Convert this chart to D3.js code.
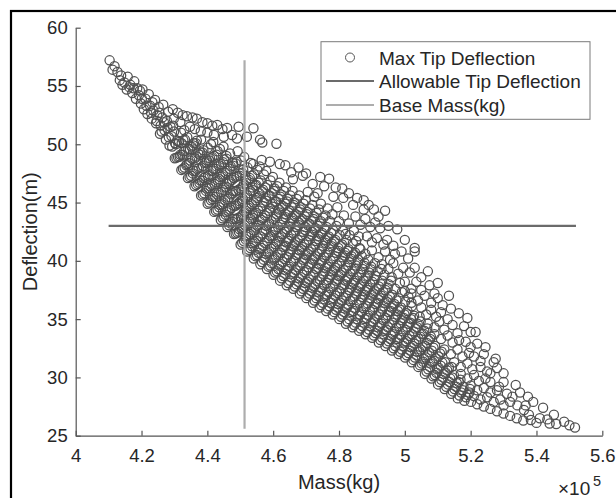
<!DOCTYPE html>
<html><head><meta charset="utf-8">
<script src="https://cdn.jsdelivr.net/npm/d3@7/dist/d3.min.js"></script>
<style>body{margin:0;background:#fff}svg{display:block}text{font-family:Arial,"Liberation Sans",sans-serif;fill:#262626}</style>
</head><body><svg id="c" width="616" height="498"></svg>
<script>
// mass values in units of 1e5 kg, deflection in m
const xTicks=[4,4.2,4.4,4.6,4.8,5,5.2,5.4,5.6];
const yTicks=[25,30,35,40,45,50,55,60];
const allowableDeflection=43;
const allowableMassRange=[4.10,5.52];
const baseMass=4.513;
const baseDeflectionRange=[25.6,57.2];
const legendLabels=["Max Tip Deflection","Allowable Tip Deflection","Base Mass(kg)"];

const upperArm=[[4.103,57.2],[4.118,56.7],[4.127,56.2],[4.138,55.9],[4.134,55.5],[4.148,55.3],[4.155,54.7],[4.158,55.8],[4.166,55.1],[4.172,54.4],[4.178,55.4],[4.183,53.9],[4.187,54.8],[4.192,54.2],[4.198,53.5],[4.203,54.7],[4.207,53.0],[4.212,53.9],[4.218,52.6],[4.222,54.3],[4.226,53.3],[4.231,52.2],[4.236,52.9],[4.241,53.8],[4.244,51.8],[4.248,52.5],[4.252,53.2],[4.256,50.9],[4.258,51.6],[4.263,52.3],[4.266,53.4],[4.27,51.2],[4.274,50.4],[4.277,52.0],[4.281,52.8],[4.285,49.9],[4.288,51.5],[4.291,50.7],[4.295,53.0],[4.298,52.2],
[4.112,56.4],[4.142,55.1],[4.163,54.9],[4.176,54.8],[4.195,54.6],[4.201,53.9],[4.215,53.3],[4.229,52.7],[4.233,53.6],[4.246,52.0],[4.254,52.7],[4.261,51.1],[4.268,51.9],[4.279,51.4],[4.283,50.6],[4.293,49.8],[4.296,51.6]];

const topStrand=[[4.31,52.7],[4.325,52.5],[4.338,52.4],[4.355,52.3],[4.368,52.2],[4.385,51.9],[4.40,51.8],[4.415,51.6],[4.43,51.65],[4.446,51.3],[4.46,51.4],[4.495,51.5],[4.54,51.37],[4.38,51.1],[4.40,51.0],[4.42,50.8],[4.45,50.65],[4.475,50.8],[4.49,50.5],[4.52,50.65],[4.56,50.4],[4.567,50.15],[4.61,50.05],[4.318,51.9],[4.347,51.5],[4.362,51.3],[4.33,51.2]];

const denseBand=[
[4.301,48.8],[4.302,50.1],[4.299,51.1],[4.311,48.9],[4.309,50.3],
[4.321,47.8],[4.318,49.1],[4.322,50.1],[4.320,51.0],[4.331,48.0],[4.329,49.4],[4.332,50.4],
[4.341,47.1],[4.338,48.3],[4.342,49.6],[4.339,50.6],[4.351,47.3],[4.348,48.6],[4.352,49.8],
[4.361,46.4],[4.358,47.7],[4.362,48.8],[4.359,50.1],[4.371,46.6],[4.369,47.9],[4.372,49.2],[4.368,50.3],
[4.381,45.6],[4.378,46.9],[4.382,48.0],[4.379,49.3],[4.381,50.4],[4.391,45.8],[4.389,47.1],[4.392,48.4],[4.388,49.5],
[4.401,44.9],[4.398,46.2],[4.402,47.3],[4.399,48.6],[4.401,49.7],[4.411,45.2],[4.409,46.4],[4.412,47.7],[4.408,48.8],[4.411,50.0],
[4.421,44.2],[4.418,45.5],[4.422,46.6],[4.419,47.9],[4.421,49.0],[4.418,50.2],[4.431,44.4],[4.429,45.7],[4.432,46.9],[4.428,48.1],[4.431,49.4],
[4.441,43.5],[4.438,44.8],[4.442,45.9],[4.439,47.2],[4.441,48.3],[4.438,49.6],[4.451,43.8],[4.449,45.0],[4.452,46.3],[4.448,47.4],[4.451,48.7],[4.449,49.8],
[4.461,42.9],[4.458,44.2],[4.462,45.3],[4.459,46.6],[4.461,47.7],[4.458,49.0],[4.471,43.2],[4.469,44.4],[4.472,45.7],[4.468,46.8],[4.471,48.1],[4.469,49.2],
[4.481,42.3],[4.478,43.6],[4.482,44.7],[4.479,46.0],[4.481,47.1],[4.478,48.4],[4.491,42.4],[4.489,43.6],[4.492,44.9],[4.488,46.0],[4.491,47.3],[4.489,48.5],[4.492,49.4],
[4.501,41.4],[4.498,42.7],[4.502,43.8],[4.499,45.1],[4.501,46.2],[4.498,47.5],[4.502,48.6],[4.511,41.7],[4.509,42.9],[4.512,44.2],[4.508,45.3],[4.511,46.6],[4.509,47.8],[4.512,48.9],
[4.521,40.8],[4.518,42.1],[4.522,43.2],[4.519,44.5],[4.521,45.6],[4.518,46.9],[4.522,48.0],[4.531,41.1],[4.529,42.3],[4.532,43.6],[4.528,44.7],[4.531,46.0],[4.529,47.1],[4.532,48.4],
[4.541,40.2],[4.538,41.5],[4.542,42.6],[4.539,43.9],[4.541,45.0],[4.538,46.3],[4.542,47.4],[4.539,48.3],[4.551,40.5],[4.549,41.7],[4.552,43.0],[4.548,44.1],[4.551,45.4],[4.549,46.5],[4.552,47.8],
[4.561,39.7],[4.558,41.0],[4.562,42.1],[4.559,43.4],[4.561,44.5],[4.558,45.8],[4.562,46.9],[4.559,48.1],[4.571,40.1],[4.569,41.3],[4.572,42.6],[4.568,43.7],[4.571,45.0],[4.569,46.1],[4.572,47.4],
[4.581,39.3],[4.578,40.6],[4.582,41.7],[4.579,43.0],[4.581,44.1],[4.578,45.4],[4.582,46.5],[4.579,47.7],[4.591,39.6],[4.589,40.8],[4.592,42.1],[4.588,43.2],[4.591,44.5],[4.589,45.6],[4.592,46.9],
[4.601,38.8],[4.598,40.1],[4.602,41.2],[4.599,42.5],[4.601,43.6],[4.598,44.9],[4.602,46.0],[4.599,47.2],[4.611,39.1],[4.609,40.3],[4.612,41.6],[4.608,42.7],[4.611,44.0],[4.609,45.1],[4.612,46.4],
[4.621,38.3],[4.618,39.6],[4.622,40.7],[4.619,42.0],[4.621,43.1],[4.618,44.4],[4.622,45.5],[4.619,46.7],[4.631,38.7],[4.629,39.9],[4.632,41.2],[4.628,42.3],[4.631,43.6],[4.629,44.7],[4.632,46.0],
[4.641,37.9],[4.638,39.2],[4.642,40.3],[4.639,41.6],[4.641,42.7],[4.638,44.0],[4.642,45.1],[4.639,46.3],[4.651,38.3],[4.649,39.5],[4.652,40.8],[4.648,41.9],[4.651,43.2],[4.649,44.3],[4.652,45.6],
[4.661,37.6],[4.658,38.9],[4.662,40.0],[4.659,41.3],[4.661,42.4],[4.658,43.7],[4.662,44.8],[4.659,46.0],[4.671,38.0],[4.669,39.2],[4.672,40.5],[4.668,41.6],[4.671,42.9],[4.669,44.0],[4.672,45.3],
[4.681,37.2],[4.678,38.5],[4.682,39.6],[4.679,40.9],[4.681,42.0],[4.678,43.3],[4.682,44.4],[4.679,45.6],[4.691,37.6],[4.689,38.8],[4.692,40.1],[4.688,41.2],[4.691,42.5],[4.689,43.6],[4.692,44.9],
[4.701,36.8],[4.698,38.1],[4.702,39.2],[4.699,40.5],[4.701,41.6],[4.698,42.9],[4.702,44.0],[4.699,45.2],[4.711,37.2],[4.709,38.4],[4.712,39.7],[4.708,40.8],[4.711,42.1],[4.709,43.2],[4.712,44.5],
[4.721,36.4],[4.718,37.7],[4.722,38.8],[4.719,40.1],[4.721,41.2],[4.718,42.5],[4.722,43.6],[4.719,44.8],[4.731,36.8],[4.729,38.0],[4.732,39.3],[4.728,40.4],[4.731,41.7],[4.729,42.8],[4.732,44.1],
[4.741,36.0],[4.738,37.3],[4.742,38.4],[4.739,39.7],[4.741,40.8],[4.738,42.1],[4.742,43.2],[4.739,44.4],[4.751,36.4],[4.749,37.6],[4.752,38.9],[4.748,40.0],[4.751,41.3],[4.749,42.4],[4.752,43.7],
[4.761,35.7],[4.758,37.0],[4.762,38.1],[4.759,39.4],[4.761,40.5],[4.758,41.8],[4.762,42.9],[4.759,43.9],[4.771,36.1],[4.769,37.3],[4.772,38.6],[4.768,39.7],[4.771,41.0],[4.769,42.1],[4.772,43.4],
[4.781,35.4],[4.778,36.7],[4.782,37.8],[4.779,39.1],[4.781,40.2],[4.778,41.5],[4.782,42.6],[4.791,35.8],[4.789,37.0],[4.792,38.3],[4.788,39.4],[4.791,40.7],[4.789,41.8],[4.792,43.0],
[4.801,35.0],[4.798,36.3],[4.802,37.4],[4.799,38.7],[4.801,39.8],[4.798,41.1],[4.802,42.2],[4.811,35.4],[4.809,36.6],[4.812,37.9],[4.808,39.0],[4.811,40.3],[4.809,41.4],[4.812,42.6],
[4.821,34.6],[4.818,35.9],[4.822,37.0],[4.819,38.3],[4.821,39.4],[4.818,40.7],[4.822,41.8],[4.831,35.0],[4.829,36.2],[4.832,37.5],[4.828,38.6],[4.831,39.9],[4.829,41.0],[4.832,42.2],
[4.841,34.3],[4.838,35.6],[4.842,36.7],[4.839,38.0],[4.841,39.1],[4.838,40.4],[4.842,41.5],[4.851,34.7],[4.849,35.9],[4.852,37.2],[4.848,38.3],[4.851,39.6],[4.849,40.7],[4.852,41.7],
[4.861,34.0],[4.858,35.3],[4.862,36.4],[4.859,37.7],[4.861,38.8],[4.858,40.1],[4.862,41.1],[4.871,34.4],[4.869,35.6],[4.872,36.9],[4.868,38.0],[4.871,39.3],[4.869,40.4],
[4.881,33.7],[4.878,35.0],[4.882,36.1],[4.879,37.4],[4.881,38.5],[4.878,39.8],[4.891,34.1],[4.889,35.3],[4.892,36.6],[4.888,37.7],[4.891,39.0],[4.889,40.1],
[4.901,33.4],[4.898,34.7],[4.902,35.8],[4.899,37.1],[4.901,38.2],[4.898,39.5],[4.911,33.8],[4.909,35.0],[4.912,36.3],[4.908,37.4],[4.911,38.7],[4.909,39.8],
[4.921,33.0],[4.918,34.3],[4.922,35.4],[4.919,36.7],[4.921,37.8],[4.918,39.1],[4.931,33.4],[4.929,34.6],[4.932,35.9],[4.928,37.0],[4.931,38.3],[4.929,39.3],
[4.941,32.7],[4.938,34.0],[4.942,35.1],[4.939,36.4],[4.941,37.5],[4.938,38.8],[4.951,33.1],[4.949,34.3],[4.952,35.6],[4.948,36.7],[4.951,38.0],
[4.961,32.3],[4.958,33.6],[4.962,34.7],[4.959,36.0],[4.961,37.1],[4.958,38.3],[4.971,32.7],[4.969,33.9],[4.972,35.2],[4.968,36.3],[4.971,37.6],
[4.981,32.0],[4.978,33.3],[4.982,34.4],[4.979,35.7],[4.981,36.8],[4.991,32.4],[4.989,33.6],[4.992,34.9],[4.988,36.0],[4.991,37.3],
[5.001,31.7],[4.998,33.0],[5.002,34.1],[4.999,35.4],[5.001,36.5],[5.011,32.1],[5.009,33.3],[5.012,34.6],[5.008,35.7],[5.011,36.9],
[5.021,31.3],[5.018,32.6],[5.022,33.7],[5.019,35.0],[5.021,36.1],[5.031,31.7],[5.029,32.9],[5.032,34.2],[5.028,35.3],
[5.041,30.9],[5.038,32.2],[5.042,33.3],[5.039,34.6],[5.051,31.2],[5.049,32.4],[5.052,33.7],[5.048,34.8],
[5.061,30.3],[5.058,31.6],[5.062,32.7],[5.059,34.0],[5.071,30.7],[5.069,31.9],[5.072,33.2],[5.068,34.2],
[5.081,29.9],[5.078,31.2],[5.082,32.3],[5.079,33.5],[5.091,30.2],[5.089,31.4],[5.092,32.7],
[5.101,29.4],[5.098,30.7],[5.102,31.8],[5.111,29.8],[5.109,31.0],[5.112,32.2],
[5.121,29.0],[5.118,30.3],[5.122,31.3],[5.131,29.4],[5.129,30.6],[5.141,28.6],[5.138,29.9],[5.142,30.9],
[5.151,29.0],[5.149,30.2],[5.161,28.2],[5.158,29.5],[5.171,28.7],[5.169,29.8],[5.181,28.0],[5.178,29.2],[5.191,28.5],[5.201,27.9],[5.198,29.0]];

const denseFill=[
[4.306,48.85],[4.304,50.0],[4.316,48.95],[4.314,50.2],[4.326,47.9],[4.324,49.1],[4.327,50.35],[4.336,48.2],[4.334,49.45],
[4.346,47.2],[4.344,48.4],[4.347,49.6],[4.356,47.5],[4.354,48.75],[4.357,49.9],[4.366,46.5],[4.364,47.7],[4.367,48.95],[4.365,50.1],
[4.376,46.7],[4.374,47.95],[4.377,49.1],[4.386,45.7],[4.384,46.9],[4.387,48.15],[4.385,49.3],[4.396,46.0],[4.394,47.2],[4.397,48.45],
[4.406,45.0],[4.404,46.25],[4.407,47.4],[4.405,48.6],[4.416,45.3],[4.414,46.5],[4.417,47.75],[4.415,48.9],
[4.426,44.3],[4.424,45.5],[4.427,46.75],[4.425,47.9],[4.428,49.1],[4.436,44.6],[4.434,45.85],[4.437,47.0],[4.435,48.2],
[4.446,43.65],[4.444,44.85],[4.447,46.1],[4.445,47.25],[4.448,48.45],[4.456,43.95],[4.454,45.2],[4.457,46.35],[4.455,47.55],[4.458,48.75],
[4.466,43.05],[4.464,44.3],[4.467,45.45],[4.465,46.65],[4.468,47.9],[4.476,43.35],[4.474,44.55],[4.477,45.8],[4.475,46.95],[4.478,48.15],
[4.486,42.35],[4.484,43.6],[4.487,44.75],[4.485,45.95],[4.488,47.2],[4.486,48.35],[4.496,42.5],[4.494,43.7],[4.497,44.95],[4.495,46.1],[4.498,47.3],
[4.506,41.55],[4.504,42.8],[4.507,43.95],[4.505,45.15],[4.508,46.4],[4.506,47.55],[4.516,41.85],[4.514,43.05],[4.517,44.3],[4.515,45.45],[4.518,46.65],
[4.526,40.95],[4.524,42.2],[4.527,43.35],[4.525,44.55],[4.528,45.8],[4.526,46.95],[4.536,41.25],[4.534,42.45],[4.537,43.7],[4.535,44.85],[4.538,46.05],[4.536,47.3],
[4.546,40.4],[4.544,41.6],[4.547,42.85],[4.545,44.0],[4.548,45.2],[4.546,46.45],[4.556,40.7],[4.554,41.95],[4.557,43.1],[4.555,44.3],[4.558,45.55],[4.556,46.7],
[4.566,39.9],[4.564,41.1],[4.567,42.35],[4.565,43.5],[4.568,44.7],[4.566,45.95],[4.576,40.3],[4.574,41.55],[4.577,42.7],[4.575,43.9],[4.578,45.15],[4.576,46.3],
[4.586,39.5],[4.584,40.7],[4.587,41.95],[4.585,43.1],[4.588,44.3],[4.586,45.55],[4.596,39.8],[4.594,41.05],[4.597,42.2],[4.595,43.4],[4.598,44.65],[4.596,45.8],
[4.606,39.0],[4.604,40.2],[4.607,41.45],[4.605,42.6],[4.608,43.8],[4.606,45.05],[4.604,46.2],[4.616,39.3],[4.614,40.55],[4.617,41.7],[4.615,42.9],[4.618,44.15],[4.616,45.3],
[4.626,38.5],[4.624,39.7],[4.627,40.95],[4.625,42.1],[4.628,43.3],[4.626,44.55],[4.624,45.7],[4.636,38.9],[4.634,40.15],[4.637,41.3],[4.635,42.5],[4.638,43.75],[4.636,44.9],
[4.646,38.1],[4.644,39.3],[4.647,40.55],[4.645,41.7],[4.648,42.9],[4.646,44.15],[4.644,45.3],[4.656,38.6],[4.654,39.85],[4.657,41.0],[4.655,42.2],[4.658,43.45],[4.656,44.6],
[4.666,37.8],[4.664,39.0],[4.667,40.25],[4.665,41.4],[4.668,42.6],[4.666,43.85],[4.664,45.0],[4.676,38.2],[4.674,39.45],[4.677,40.6],[4.675,41.8],[4.678,43.05],[4.676,44.2],
[4.686,37.4],[4.684,38.6],[4.687,39.85],[4.685,41.0],[4.688,42.2],[4.686,43.45],[4.684,44.6],[4.696,37.8],[4.694,39.05],[4.697,40.2],[4.695,41.4],[4.698,42.65],[4.696,43.8],
[4.706,37.0],[4.704,38.2],[4.707,39.45],[4.705,40.6],[4.708,41.8],[4.706,43.05],[4.704,44.2],[4.716,37.4],[4.714,38.65],[4.717,39.8],[4.715,41.0],[4.718,42.25],[4.716,43.4],
[4.726,36.6],[4.724,37.8],[4.727,39.05],[4.725,40.2],[4.728,41.4],[4.726,42.65],[4.724,43.8],[4.736,37.0],[4.734,38.25],[4.737,39.4],[4.735,40.6],[4.738,41.85],[4.736,43.0],
[4.746,36.2],[4.744,37.4],[4.747,38.65],[4.745,39.8],[4.748,41.0],[4.746,42.25],[4.744,43.4],[4.756,36.7],[4.754,37.95],[4.757,39.1],[4.755,40.3],[4.758,41.55],[4.756,42.7],
[4.766,35.9],[4.764,37.1],[4.767,38.35],[4.765,39.5],[4.768,40.7],[4.766,41.95],[4.776,36.4],[4.774,37.65],[4.777,38.8],[4.775,40.0],[4.778,41.25],[4.776,42.4],
[4.786,35.6],[4.784,36.8],[4.787,38.05],[4.785,39.2],[4.788,40.4],[4.786,41.65],[4.796,36.0],[4.794,37.25],[4.797,38.4],[4.795,39.6],[4.798,40.85],
[4.806,35.2],[4.804,36.4],[4.807,37.65],[4.805,38.8],[4.808,40.0],[4.806,41.25],[4.816,35.6],[4.814,36.85],[4.817,38.0],[4.815,39.2],[4.818,40.45],
[4.826,34.8],[4.824,36.0],[4.827,37.25],[4.825,38.4],[4.828,39.6],[4.826,40.85],[4.836,35.3],[4.834,36.55],[4.837,37.7],[4.835,38.9],[4.838,40.15],
[4.846,34.5],[4.844,35.7],[4.847,36.95],[4.845,38.1],[4.848,39.3],[4.846,40.55],[4.856,35.0],[4.854,36.25],[4.857,37.4],[4.855,38.6],[4.858,39.85],
[4.866,34.2],[4.864,35.4],[4.867,36.65],[4.865,37.8],[4.868,39.0],[4.876,34.7],[4.874,35.95],[4.877,37.1],[4.875,38.3],[4.878,39.55],
[4.886,33.9],[4.884,35.1],[4.887,36.35],[4.885,37.5],[4.888,38.7],[4.896,34.4],[4.894,35.65],[4.897,36.8],[4.895,38.0],[4.898,39.25],
[4.906,33.6],[4.904,34.8],[4.907,36.05],[4.905,37.2],[4.908,38.4],[4.916,34.0],[4.914,35.25],[4.917,36.4],[4.915,37.6],
[4.926,33.2],[4.924,34.4],[4.927,35.65],[4.925,36.8],[4.928,38.0],[4.936,33.7],[4.934,34.95],[4.937,36.1],[4.935,37.3],
[4.946,32.9],[4.944,34.1],[4.947,35.35],[4.945,36.5],[4.948,37.7],[4.956,33.3],[4.954,34.55],[4.957,35.7],[4.955,36.9],
[4.966,32.5],[4.964,33.7],[4.967,34.95],[4.965,36.1],[4.976,33.0],[4.974,34.25],[4.977,35.4],[4.975,36.6],
[4.986,32.2],[4.984,33.4],[4.987,34.65],[4.985,35.8],[4.996,32.7],[4.994,33.95],[4.997,35.1],
[5.006,31.9],[5.004,33.1],[5.007,34.35],[5.005,35.5],[5.016,32.3],[5.014,33.55],[5.017,34.7],
[5.026,31.5],[5.024,32.7],[5.027,33.95],[5.025,35.1],[5.036,31.9],[5.034,33.15],[5.037,34.3],
[5.046,31.05],[5.044,32.25],[5.047,33.5],[5.056,31.35],[5.054,32.6],[5.057,33.75],
[5.066,30.5],[5.064,31.7],[5.067,32.95],[5.076,30.9],[5.074,32.15],[5.077,33.3],
[5.086,30.1],[5.084,31.3],[5.087,32.55],[5.096,30.4],[5.094,31.65],
[5.106,29.6],[5.104,30.8],[5.107,32.05],[5.116,30.0],[5.114,31.25],
[5.126,29.2],[5.124,30.4],[5.136,29.6],[5.134,30.85],[5.146,28.8],[5.144,30.0],
[5.156,29.2],[5.166,28.45],[5.164,29.6],[5.176,28.9],[5.186,28.3],[5.196,28.7]];

const upperSparse=[[4.565,48.65],[4.59,48.5],[4.62,48.3],[4.637,48.2],[4.655,47.6],[4.677,48.0],[4.66,47.0],[4.69,47.3],[4.70,47.5],[4.72,46.6],[4.743,47.2],[4.755,46.4],[4.77,47.05],[4.783,45.5],[4.79,46.3],[4.81,46.2],[4.813,45.4],[4.83,45.8],[4.843,44.8],[4.855,45.4],[4.875,45.2],[4.875,44.4],[4.89,44.8],[4.906,44.4],[4.94,44.3],[4.92,43.8],
[4.705,45.9],[4.725,45.5],[4.745,44.9],[4.735,45.8],[4.765,44.5],[4.78,44.0],[4.795,44.6],[4.80,43.4],[4.815,43.9],[4.83,43.2],[4.85,43.8],[4.865,43.1],[4.88,43.6],[4.895,42.9],[4.91,43.3],[4.925,42.8],[4.95,43.0],[4.977,42.7],
[4.82,42.3],[4.845,42.6],[4.86,42.1],[4.885,42.1],[4.90,41.6],[4.915,41.95],[4.935,41.4],[4.946,41.8],[4.965,41.3],[5.0,41.8],[5.03,41.1],
[4.865,41.0],[4.88,40.6],[4.90,40.9],[4.92,40.3],[4.94,40.8],[4.955,40.1],[4.97,40.6],[4.99,40.8],[5.01,40.2],[5.03,40.8],
[4.93,39.7],[4.95,39.3],[4.965,39.8],[4.98,38.9],[4.995,39.4],[5.015,39.0],[5.03,39.4],[5.05,38.6],[5.07,39.1],
[4.96,38.6],[4.985,38.1],[5.0,38.2],[5.02,37.6],[5.035,38.2],[5.05,37.5],[5.075,37.9],[5.10,38.1],[5.09,37.2],
[5.0,37.4],[5.02,37.2],[5.04,36.6],[5.06,37.0],[5.08,36.4],[5.10,36.8],[5.115,36.2],[5.134,37.0],
[5.02,36.4],[5.05,36.0],[5.065,35.4],[5.08,35.8],[5.095,35.2],[5.11,35.6],[5.13,35.0],[5.14,35.9],[5.164,35.5],[5.19,35.1],
[5.045,35.2],[5.07,34.6],[5.09,34.3],[5.105,34.8],[5.12,34.1],[5.145,34.5],[5.16,33.8],[5.18,34.4],[5.20,33.9],[5.215,33.9]];

const lowerTail=[[5.09,33.7],[5.11,33.3],[5.13,33.6],[5.145,33.0],[5.165,33.2],[5.185,33.06],[5.20,32.6],[5.22,32.9],[5.245,32.6],
[5.12,32.4],[5.14,32.0],[5.16,32.4],[5.175,31.8],[5.195,32.1],[5.21,31.8],[5.23,31.4],[5.24,32.0],[5.27,31.3],[5.276,31.6],
[5.15,31.3],[5.17,30.9],[5.19,31.2],[5.205,30.7],[5.23,30.9],[5.25,30.5],[5.26,30.35],[5.28,30.8],[5.30,30.35],
[5.17,30.3],[5.19,29.9],[5.21,30.2],[5.225,29.7],[5.245,29.9],[5.26,29.6],[5.286,29.2],[5.30,29.6],[5.337,29.35],
[5.20,29.3],[5.22,28.9],[5.24,29.1],[5.26,28.7],[5.28,28.9],[5.31,28.6],[5.327,28.35],[5.35,28.7],[5.374,28.35],
[5.21,28.4],[5.23,28.1],[5.25,28.3],[5.27,27.9],[5.29,28.1],[5.30,27.6],[5.32,27.9],[5.342,27.6],[5.367,27.6],[5.39,27.9],[5.42,27.4],
[5.22,27.7],[5.24,27.5],[5.26,27.3],[5.28,27.1],[5.30,26.9],[5.32,26.7],[5.34,26.5],[5.362,27.2],[5.377,26.8],[5.36,26.3],[5.383,26.35],[5.41,26.5],[5.40,26.1],[5.433,26.4],[5.44,26.05],[5.453,26.8],[5.46,26.0],[5.484,26.2],[5.50,25.9],[5.517,25.7]];

const svg=d3.select("#c");
const x=d3.scaleLinear().domain([4,5.6]).range([75.7,602.3]);
const y=d3.scaleLinear().domain([25,60]).range([435.7,27.7]);
const axisColor="#555";

svg.append("rect").attr("x",11).attr("y",11).attr("width",700).attr("height",600)
  .attr("fill","none").attr("stroke","#000").attr("stroke-width",2.2);

const allPoints=[].concat(upperArm,topStrand,denseBand,denseFill,upperSparse,lowerTail);
svg.append("g").selectAll("circle").data(allPoints).join("circle")
  .attr("cx",d=>x(d[0])).attr("cy",d=>y(d[1])).attr("r",4.6)
  .attr("fill","none").attr("stroke","#505050").attr("stroke-width",1.25);

svg.append("line").attr("x1",x(allowableMassRange[0])).attr("x2",x(allowableMassRange[1]))
  .attr("y1",y(allowableDeflection)).attr("y2",y(allowableDeflection))
  .attr("stroke","#6b6b6b").attr("stroke-width",2.2);
svg.append("line").attr("x1",x(baseMass)).attr("x2",x(baseMass))
  .attr("y1",y(baseDeflectionRange[0])).attr("y2",y(baseDeflectionRange[1]))
  .attr("stroke","#adadad").attr("stroke-width",2.2);

const gx=svg.append("g").attr("transform","translate(0,435.7)")
  .call(d3.axisBottom(x).tickValues(xTicks).tickFormat(d3.format("")).tickSizeInner(-5).tickSizeOuter(0).tickPadding(13));
const gy=svg.append("g").attr("transform","translate(75.7,0)")
  .call(d3.axisLeft(y).tickValues(yTicks).tickSizeInner(-5).tickSizeOuter(0).tickPadding(8));
[gx,gy].forEach(g=>{
  g.select(".domain").attr("stroke",axisColor).attr("stroke-width",1.2);
  g.selectAll(".tick line").attr("stroke",axisColor).attr("stroke-width",1.2);
  g.selectAll(".tick text").attr("fill","#262626").style("font-size","18.5px").style("font-family","Arial, 'Liberation Sans', sans-serif");
});

svg.append("text").attr("x",339).attr("y",489).attr("text-anchor","middle").style("font-size","20px").text("Mass(kg)");
svg.append("text").attr("transform","translate(37,231.7) rotate(-90)").attr("text-anchor","middle").style("font-size","20px").text("Deflection(m)");
svg.append("text").attr("x",558).attr("y",495).style("font-size","19px").text("\u00d710");
svg.append("text").attr("x",593).attr("y",485.5).style("font-size","14.5px").text("5");

const lg=svg.append("g");
lg.append("rect").attr("x",321).attr("y",41.7).attr("width",269).attr("height",77.6)
  .attr("fill","#fff").attr("stroke","#7a7a7a").attr("stroke-width",1);
const rowsY=[57.5,81,105];
lg.append("circle").attr("cx",350).attr("cy",rowsY[0]).attr("r",4.5).attr("fill","none").attr("stroke","#555");
lg.append("line").attr("x1",326).attr("x2",374).attr("y1",rowsY[1]).attr("y2",rowsY[1]).attr("stroke","#6b6b6b").attr("stroke-width",2.2);
lg.append("line").attr("x1",326).attr("x2",374).attr("y1",rowsY[2]).attr("y2",rowsY[2]).attr("stroke","#adadad").attr("stroke-width",2.2);
lg.selectAll("text.l").data(legendLabels).join("text").attr("class","l")
  .attr("x",379).attr("y",(d,i)=>rowsY[i]+7).style("font-size","19px").text(d=>d);
</script></body></html>
